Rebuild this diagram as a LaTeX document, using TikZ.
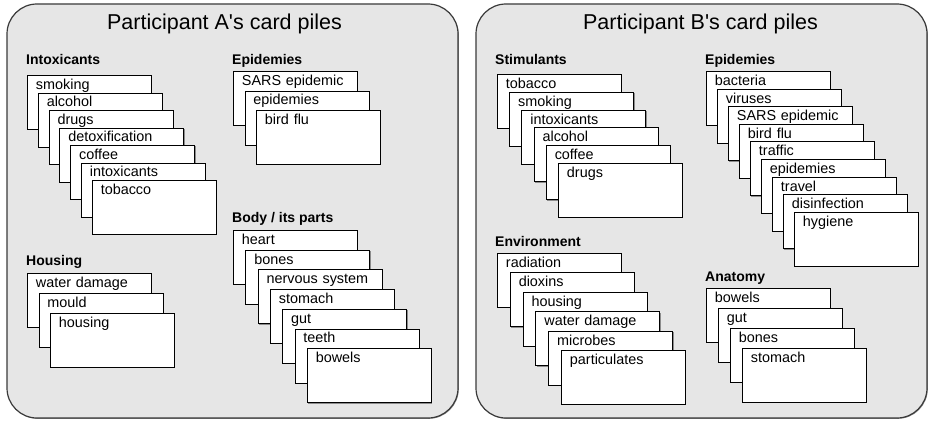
\documentclass[tikz,border=0pt]{standalone}
\usepackage{fontspec}
\setmainfont{Liberation Sans}
\usepackage{tikz}
\usetikzlibrary{shadows}
\definecolor{panelbg}{HTML}{E6E6E6}
\definecolor{panelborder}{HTML}{3A3A3A}
\definecolor{cardshadow}{HTML}{8C8C8C}

\tikzset{
  panel/.style={draw=panelborder, line width=1.2pt, fill=panelbg, rounded corners=30pt,
    drop shadow={shadow xshift=0.8pt, shadow yshift=-0.8pt, fill=cardshadow, opacity=1}},
  paneltitle/.style={anchor=base, font=\fontsize{21.5}{24}\selectfont},
  pilehead/.style={anchor=base west, inner sep=0pt, font=\fontsize{14}{16}\selectfont\bfseries},
  card/.style={draw=black, line width=0.9pt, fill=white, anchor=north west,
    minimum width=124pt, text width=107pt, inner xsep=8.5pt, inner ysep=3pt,
    text height=11pt, text depth=37pt, align=left,
    font=\fontsize{14.4}{17}\selectfont,
    drop shadow={shadow xshift=0.9pt, shadow yshift=-0.9pt, fill=cardshadow, opacity=1}}
}

% name, x, y, dx, dy, cards (top first)
\newcommand{\cardpile}[6]{%
  \foreach \lbl [count=\i from 0] in {#6} {
    \node[card] (#1-\i) at ({#2+\i*#4},{#3+\i*#5}) {\lbl};
  }%
}

\begin{document}
\begin{tikzpicture}[x=1pt, y=-1pt]
\useasboundingbox (0,0) rectangle (928,420);

% panels
\draw[panel] (7,4) rectangle (458,418);
\draw[panel] (476,4) rectangle (927,418);
\node[paneltitle] (titleA) at (224.5,30) {Participant A\textquotesingle s card piles};
\node[paneltitle] (titleB) at (700.5,30) {Participant B\textquotesingle s card piles};

% participant A
\node[pilehead] (hIntox) at (26,64) {Intoxicants};
\cardpile{intox}{27}{75}{10.8}{17.5}{smoking, alcohol, drugs, detoxification, coffee, intoxicants, tobacco}

\node[pilehead] (hEpidA) at (232,64) {Epidemies};
\cardpile{epidA}{233}{71}{11.5}{19.5}{SARS epidemic, epidemies, bird flu}

\node[pilehead] (hHousing) at (26,265) {Housing};
\cardpile{housing}{27}{273}{11.5}{20}{water damage, mould, housing}

\node[pilehead] (hBody) at (232,222) {Body / its parts};
\cardpile{body}{233}{230}{12.3}{19.7}{heart, bones, nervous system, stomach, gut, teeth, bowels}

% participant B
\node[pilehead] (hStim) at (495,64) {Stimulants};
\cardpile{stim}{497}{74}{12.2}{17.8}{tobacco, smoking, intoxicants, alcohol, coffee, drugs}

\node[pilehead] (hEpidB) at (705,64) {Epidemies};
\cardpile{epidB}{706}{71}{11}{17.6}{bacteria, viruses, SARS epidemic, bird flu, traffic, epidemies, travel, disinfection, hygiene}

\node[pilehead] (hEnv) at (495,246) {Environment};
\cardpile{env}{497}{253}{12.8}{19.4}{radiation, dioxins, housing, water damage, microbes, particulates}

\node[pilehead] (hAnat) at (705,281) {Anatomy};
\cardpile{anat}{706}{288}{12}{20}{bowels, gut, bones, stomach}
\end{tikzpicture}
\end{document}
